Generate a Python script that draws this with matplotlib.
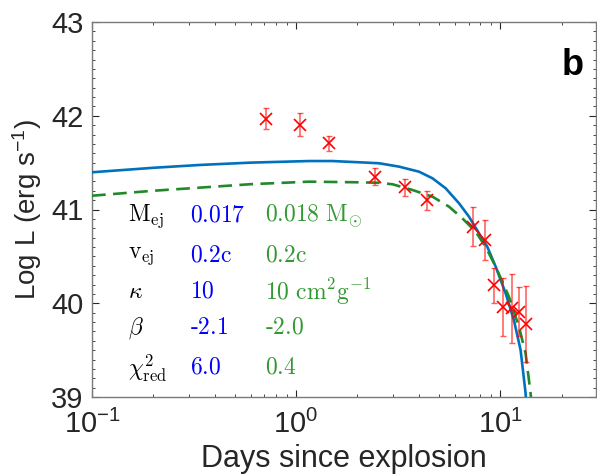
import numpy as np
import matplotlib
matplotlib.use("Agg")
import matplotlib.pyplot as plt
from matplotlib.ticker import LogLocator, FixedLocator, MultipleLocator, FuncFormatter

plt.rcParams['font.family'] = ['Liberation Sans', 'DejaVu Sans']
plt.rcParams['mathtext.fontset'] = 'custom'
plt.rcParams['mathtext.rm'] = 'Liberation Sans'
plt.rcParams['mathtext.it'] = 'Liberation Sans:italic'

# observed points
days = [0.71, 1.04, 1.455, 2.43, 3.42, 4.40, 7.36, 8.40, 9.36, 10.36, 11.38, 12.36, 13.42]
logL = [41.97, 41.905, 41.706, 41.35, 41.237, 41.10, 40.817, 40.675, 40.19, 39.957, 39.946, 39.91, 39.78]
logL_err = [0.115, 0.12, 0.08, 0.09, 0.09, 0.10, 0.21, 0.21, 0.19, 0.31, 0.37, 0.26, 0.405]

# model 1 (blue, solid)
blue_t = [0.1, 0.2, 0.337, 0.6, 1.16, 1.504, 2.21, 2.555, 3.20, 4.01, 4.66, 5.41, 6.29, 7.04,
          7.88, 8.65, 9.51, 10.64, 11.68, 12.6, 13.33, 13.5]
blue_L = [41.397, 41.445, 41.475, 41.50, 41.517, 41.517, 41.50, 41.493, 41.457, 41.403, 41.333,
          41.226, 41.066, 40.923, 40.746, 40.603, 40.39, 40.106, 39.82, 39.50, 39.04, 38.8]

# model 2 (green, dashed)
green_t = [0.1, 0.2, 0.337, 0.6, 1.16, 2.04, 2.55, 2.97, 3.72, 4.66, 5.62, 6.53, 7.59, 8.5,
           9.51, 11.04, 12.36, 13.33, 14.1, 14.4]
green_L = [41.147, 41.20, 41.233, 41.27, 41.297, 41.29, 41.285, 41.269, 41.208, 41.137, 41.03,
           40.906, 40.763, 40.60, 40.39, 40.07, 39.75, 39.466, 39.04, 38.8]

rows = [r'$\mathrm{M_{ej}}$', r'$\mathrm{v_{ej}}$', r'$\kappa$', r'$\beta$', r'$\chi^2_{\mathrm{red}}$']
blue_vals = [r'$0.017$', r'$0.2\mathrm{c}$', r'$10$', r'$\text{-}2.1$', r'$6.0$']
green_vals = [r'$0.018\ \mathrm{M}_{\odot}$', r'$0.2\mathrm{c}$', r'$10\ \mathrm{cm^2g^{-1}}$',
              r'$\text{-}2.0$', r'$0.4$']

fig = plt.figure(figsize=(5.97, 4.75), dpi=100)
ax = fig.add_axes([92/597, 1-397/475, 504/597, 375/475])

ax.plot(blue_t, blue_L, color='#0072BD', lw=1.9, zorder=3)
ax.plot(green_t, green_L, color='#22892a', lw=1.9, dashes=(5.2, 2.8), zorder=3)
ax.errorbar(days, logL, yerr=logL_err, fmt='none', ecolor=(1, 0, 0, 0.65),
            elinewidth=1.1, capsize=2.5, capthick=1.0, zorder=4)
ax.plot(days, logL, 'x', color='red', ms=9, mew=1.2, zorder=5)

ax.set_xscale('log')
ax.set_xlim(0.1, 29.5)
ax.set_ylim(39, 43)

ax.xaxis.set_major_locator(FixedLocator([0.1, 1, 10]))
ax.xaxis.set_major_formatter(FuncFormatter(lambda v, p: r'$\mathregular{10^{%d}}$' % round(np.log10(v))))
ax.xaxis.set_minor_locator(LogLocator(base=10, subs=np.arange(2, 10)))
ax.yaxis.set_major_locator(MultipleLocator(1))
ax.yaxis.set_minor_locator(MultipleLocator(0.1))

ax.tick_params(which='both', direction='in', top=True, right=True, colors='#262626', labelsize=21)
ax.tick_params(which='major', length=5, width=0.8)
ax.tick_params(which='minor', length=2.5, width=0.6)
ax.tick_params(axis='x', pad=9)
ax.tick_params(axis='y', pad=6)
for s in ax.spines.values():
    s.set_color('#7a7a7a')
    s.set_linewidth(1.0)

ax.set_xlabel('Days since explosion', fontsize=22, color='#262626', labelpad=4)
ax.set_ylabel(r'Log L (erg s$^{\mathregular{-1}}$)', fontsize=20, color='#262626', labelpad=5)

ax.text(0.954, 0.885, 'b', transform=ax.transAxes, fontsize=26, fontweight='bold',
        ha='center', va='center')

row_y = [216, 256, 292, 328, 368]
for i in range(len(rows)):
    yy = 1 - (row_y[i] - 22) / 375
    ax.text((128 - 92) / 504, yy, rows[i], transform=ax.transAxes, fontsize=17,
            math_fontfamily='cm', color='black', va='center')
    ax.text((190 - 92) / 504, yy, blue_vals[i], transform=ax.transAxes, fontsize=17,
            math_fontfamily='cm', color='blue', va='center')
    ax.text((265 - 92) / 504, yy, green_vals[i], transform=ax.transAxes, fontsize=17,
            math_fontfamily='cm', color='#339933', va='center')

fig.savefig('out.png', dpi=100)
